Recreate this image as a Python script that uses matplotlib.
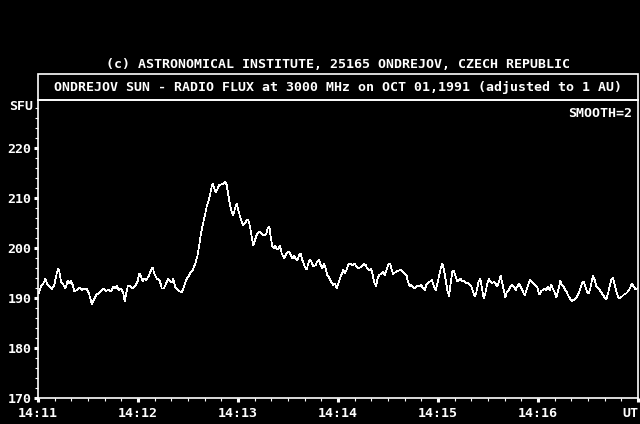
import matplotlib
matplotlib.use("Agg")
import matplotlib.pyplot as plt
from matplotlib.patches import Rectangle
from matplotlib.ticker import MultipleLocator

# seconds after 14:11:00 UT and flux (SFU)
t_sec = [
    0.4, 1.8, 3.2, 4.4, 5.8, 7.2, 8.4, 9.8, 10.8, 12.0, 12.8, 13.8, 15.2, 16.4,
    17.8, 18.8, 19.8, 20.8, 21.8, 23.2, 24.8, 26.4, 27.8, 29.2, 30.4, 31.4, 32.4,
    33.8, 35.2, 36.4, 37.8, 39.2, 40.8, 42.4, 43.8, 45.2, 46.4, 47.4, 48.4, 49.8,
    51.2, 52.0, 52.8, 53.8, 55.2, 56.4, 57.8, 58.8, 59.8, 60.8, 61.8, 62.8, 63.8,
    64.8, 66.4, 67.8, 68.8, 69.8, 71.2, 72.8, 73.8,
    74.2, 75.6, 76.8, 78.0, 79.2, 80.4, 81.2, 82.2, 83.2, 84.8, 86.2, 87.2, 88.2,
    89.2, 90.2, 91.2, 92.8, 94.2, 95.6, 96.8, 97.6, 98.8, 100.2, 101.2, 102.2,
    103.2, 104.2, 104.8, 105.8, 106.8, 107.8, 108.8, 110.2, 111.2, 112.2, 113.2,
    114.2, 115.2, 116.2, 117.2, 118.2, 119.2, 120.2, 121.2, 122.2, 123.2, 124.2,
    125.2, 126.2, 127.2, 128.2, 129.2, 130.2, 131.2, 132.8, 134.2, 135.2, 136.8,
    137.8, 138.8, 139.6, 140.6, 141.6, 142.4, 143.2, 144.2, 145.2, 146.2, 147.2,
    147.6, 148.6, 149.6, 150.6, 151.6, 152.6, 153.6, 154.6, 155.6, 156.6, 157.6,
    158.6, 160.0, 161.2, 162.2, 163.2, 164.0, 165.2, 166.6, 167.6, 168.6, 169.6,
    170.6, 171.6, 172.6, 173.6, 175.0, 176.0, 177.2, 178.2, 179.2, 180.2, 181.2,
    182.0, 183.2, 184.2, 185.2, 186.2, 187.2, 188.6, 190.0, 191.2, 192.0, 193.2,
    194.6, 195.6, 196.6, 197.6, 198.6, 200.0, 201.0, 202.0, 202.8, 203.8, 204.8,
    206.0, 207.0, 208.0, 209.2, 210.2, 211.2, 212.0, 213.0, 214.2, 215.2, 216.6,
    217.6, 218.6, 220.0, 221.2,
    222.0, 223.0, 224.0, 225.0, 226.0, 227.0, 228.0, 229.0, 230.0, 231.0, 232.0,
    233.0, 234.4, 235.6, 236.4, 237.6, 238.6, 239.6, 240.6, 241.6, 242.6, 243.6,
    244.6, 245.6, 246.6, 247.6, 248.6, 249.6, 250.6, 251.6, 252.6, 253.6, 254.6,
    255.6, 257.0, 258.0, 259.0, 260.0, 261.0, 262.0, 263.0, 264.4, 265.4, 266.4,
    267.4, 268.4, 269.4, 270.4, 271.4, 272.4, 273.6, 274.4, 275.6, 276.6, 277.6,
    278.6, 279.6, 280.4, 281.4, 282.4, 283.6, 284.6, 285.6, 286.6, 287.6, 288.6,
    289.6, 290.6,
    292.0, 293.4, 294.4, 295.4, 296.8, 298.0, 299.4, 300.8, 302.0, 303.0, 304.0,
    305.0, 306.0, 307.0, 308.0, 309.0, 310.0, 311.0, 312.4, 313.4, 314.4, 315.4,
    316.4, 317.4, 318.4, 319.4, 320.4, 321.4, 322.4, 323.4, 324.4, 325.4, 326.4,
    327.4, 328.4, 329.4, 330.4, 331.4, 332.4, 333.0, 334.0, 335.0, 336.0, 337.0,
    338.0, 339.0, 340.0, 341.0, 342.0, 343.0, 344.0, 345.0, 346.0, 347.0, 348.0,
    349.0, 350.4, 351.6, 352.8, 354.0, 355.4, 356.4, 357.4, 358.4, 359.4, 360.0,
]
flux = [
    190.9, 192.3, 192.9, 193.8, 192.6, 192.3, 191.8, 192.6, 194.3, 195.9, 195.3,
    193.3, 192.7, 191.9, 193.4, 192.9, 193.4, 192.6, 191.3, 191.6, 192.1, 191.6,
    191.9, 191.8, 191.1, 189.9, 188.7, 189.9, 190.7, 190.9, 191.4, 191.9, 191.4,
    191.6, 191.3, 192.3, 191.9, 192.5, 191.6, 191.9, 190.9, 189.3, 190.7, 192.3,
    192.5, 191.9, 192.3, 192.7, 193.4, 194.9, 194.3, 193.3, 193.9, 193.6, 194.3,
    195.6, 196.1, 194.9, 193.9, 193.6, 192.6,
    191.9, 191.9, 192.9, 193.8, 193.3, 193.1, 193.8, 192.3, 191.8, 191.4, 191.1,
    191.9, 192.9, 193.8, 194.3, 194.9, 195.6, 196.7, 198.3, 200.6, 202.6, 204.6,
    206.6, 208.3, 209.3, 210.6, 212.3, 212.9, 211.9, 211.1, 211.9, 212.6, 212.7,
    212.9, 213.3, 212.6, 210.6, 208.6, 207.3, 206.6, 207.9, 208.9, 207.6, 206.3,
    205.3, 204.6, 204.9, 205.6, 205.6, 204.3, 202.3, 200.5, 201.6, 202.6, 203.3,
    202.9, 202.6, 202.7, 203.9, 204.3, 202.3, 200.3, 199.9, 200.5, 199.8, 199.8,
    200.5, 198.9, 198.3,
    197.9, 198.6, 199.1, 199.3, 198.6, 197.9, 198.4, 197.9, 197.5, 198.6, 198.9,
    197.6, 196.3, 195.7, 196.9, 197.7, 197.3, 196.3, 196.6, 197.3, 197.6, 196.6,
    195.9, 196.8, 195.9, 194.6, 193.9, 193.1, 192.6, 192.9, 191.9, 192.9, 193.9,
    194.6, 195.6, 194.9, 195.7, 196.6, 196.9, 196.6, 196.8, 196.3, 195.9, 196.1,
    196.4, 196.8, 196.6, 195.9, 195.5, 195.9, 194.3, 192.9, 192.4, 193.9, 194.6,
    194.9, 195.3, 194.6, 195.7, 196.6, 196.9, 195.9, 194.8, 195.1, 195.3, 195.5,
    195.7, 195.3, 194.8, 194.4,
    193.2, 192.3, 192.6, 192.1, 191.9, 192.3, 192.5, 192.3, 192.6, 191.9, 191.6,
    192.6, 193.1, 193.4, 193.6, 192.3, 191.6, 192.9, 194.3, 195.9, 196.9, 195.6,
    193.6, 191.6, 190.3, 192.9, 195.3, 195.4, 194.3, 193.3, 193.6, 193.8, 193.3,
    193.4, 192.9, 193.1, 192.6, 192.3, 191.3, 190.3, 191.1, 193.4, 193.8, 191.9,
    189.9, 190.9, 192.6, 193.8, 193.3, 192.9, 193.3, 192.9, 192.3, 193.3, 194.5,
    192.9, 191.3, 190.1, 191.3, 191.6, 192.3, 192.6, 192.3, 191.6, 192.3, 192.9,
    192.3, 191.6,
    190.5, 191.9, 192.9, 193.6, 193.1, 192.6, 192.3, 190.7, 191.4, 191.6, 191.9,
    191.6, 192.3, 191.6, 192.6, 191.8, 191.1, 190.1, 191.9, 193.4, 192.6, 192.3,
    191.6, 191.1, 190.3, 189.8, 189.4, 189.6, 189.9, 190.3, 190.9, 191.9, 192.9,
    193.3, 192.3, 191.3, 190.9, 191.9, 193.6, 194.5, 193.6, 192.3, 191.9, 191.6,
    191.1, 190.6, 190.1, 189.7, 190.9, 192.3, 193.6, 194.1, 192.7, 191.4, 190.3,
    189.9, 190.3, 190.7, 190.9, 191.3, 192.1, 192.9, 192.3, 191.8, 191.9, 192.1,
]

minute_ticks = [0, 60, 120, 180, 240, 300, 360]
minute_labels = ["14:11", "14:12", "14:13", "14:14", "14:15", "14:16", "UT"]
sfu_ticks = [170, 180, 190, 200, 210, 220]

title1 = "(c) ASTRONOMICAL INSTITUTE, 25165 ONDREJOV, CZECH REPUBLIC"
title2 = "ONDREJOV SUN - RADIO FLUX at 3000 MHz on OCT 01,1991 (adjusted to 1 AU)"

plt.rcParams["font.family"] = "DejaVu Sans Mono"
plt.rcParams["font.weight"] = "bold"
fs = 9.5

fig = plt.figure(figsize=(6.4, 4.24), dpi=100, facecolor="black")
ax = fig.add_axes([38 / 640, 1 - 398 / 424, 600 / 640, 298.3 / 424])
ax.set_facecolor("black")

ax.plot(t_sec, flux, color="white", lw=0.5, antialiased=False)

ax.set_xlim(0, 360)
ax.set_ylim(170, 229.66)

ax.set_xticks(minute_ticks)
ax.set_xticklabels(minute_labels)
ax.get_xticklabels()[-1].set_horizontalalignment("right")
ax.set_yticks(sfu_ticks)
ax.xaxis.set_minor_locator(MultipleLocator(10))
ax.yaxis.set_minor_locator(MultipleLocator(2))

for s in ax.spines.values():
    s.set_color("white")
    s.set_linewidth(1.2)

ax.tick_params(which="major", length=3, width=2.2, color="white",
               labelcolor="white", labelsize=fs)
ax.tick_params(axis="x", which="major", pad=3.5)
ax.tick_params(axis="y", which="major", pad=1.5)
ax.tick_params(which="minor", length=2.5, width=0.8, color="white")

# title box above the plot
ax.add_patch(Rectangle((0, 1), 1, 26 / 298.3, transform=ax.transAxes,
                       fill=False, ec="white", lw=1.2, clip_on=False))

fig.text(338 / 640, 1 - 64 / 424, title1, color="white", fontsize=fs,
         ha="center", va="center")
fig.text(338 / 640, 1 - 87 / 424, title2, color="white", fontsize=fs,
         ha="center", va="center")
fig.text(33 / 640, 1 - 107 / 424, "SFU", color="white", fontsize=fs,
         ha="right", va="center")
fig.text(632 / 640, 1 - 113 / 424, "SMOOTH=2", color="white", fontsize=fs,
         ha="right", va="center")

fig.savefig("out.png", dpi=100, facecolor="black")
